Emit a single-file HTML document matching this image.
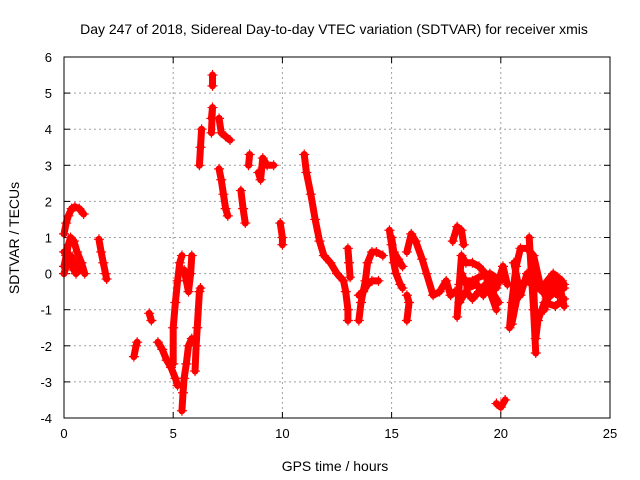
<!DOCTYPE html>
<html><head><meta charset="utf-8"><style>
body{margin:0;background:#fff}
svg{display:block;font-family:"Liberation Sans",sans-serif}
</style></head><body>
<svg id="chart" width="640" height="480" viewBox="0 0 640 480">
<text x="334" y="34" font-size="14" text-anchor="middle">Day 247 of 2018, Sidereal Day-to-day VTEC variation (SDTVAR) for receiver xmis</text>
<text x="335" y="471" font-size="14" text-anchor="middle">GPS time / hours</text>
<text transform="translate(19,238) rotate(-90)" font-size="14" text-anchor="middle">SDTVAR / TECUs</text>
<g id="grid"></g><g id="ticks"></g><g id="marks"></g>
<rect x="64" y="57" width="546" height="361" fill="none" stroke="#000" stroke-width="1"/>
</svg>
<script>
const xTicks=[0,5,10,15,20,25];
const yTicks=[-4,-3,-2,-1,0,1,2,3,4,5,6];
const seg1=[[0,1.1],[0.1,1.4],[0.2,1.6],[0.35,1.8],[0.5,1.85],[0.7,1.8],[0.9,1.65]];
const seg2=[[0,0.2],[0.1,0.5],[0.2,0.8],[0.3,1.0],[0.45,0.9],[0.6,0.6],[0.8,0.3],[0.95,0.0]];
const seg3=[[0,0.0],[0.1,0.2],[0.3,0.5],[0.5,0.3],[0.7,0.1]];
const seg3b=[[0,0.6],[0.15,0.5],[0.3,0.3],[0.45,0.1],[0.55,0.0]];
const seg4=[[1.6,0.95],[1.7,0.6],[1.8,0.3],[1.9,0.0],[1.95,-0.15]];
const seg5=[[3.2,-2.3],[3.3,-2.0],[3.35,-1.9]];
const seg6=[[3.9,-1.1],[4.0,-1.3]];
const seg7=[[4.3,-1.9],[4.5,-2.1],[4.7,-2.4],[4.9,-2.6],[5.1,-2.9],[5.2,-3.1]];
const seg8=[[5.0,-2.5],[5.0,-1.5],[5.1,-0.8],[5.2,-0.2],[5.3,0.3],[5.4,0.5]];
const seg9=[[5.5,0.1],[5.6,-0.2],[5.7,-0.5],[5.8,0.0],[5.85,0.5]];
const seg10=[[5.4,-3.8],[5.45,-3.3],[5.5,-2.9],[5.6,-2.5],[5.7,-2.0],[5.85,-1.8]];
const seg11=[[6.0,-2.7],[6.05,-2.0],[6.1,-1.5],[6.2,-0.5],[6.25,-0.4]];
const seg12=[[6.2,3.0],[6.25,3.5],[6.3,4.0]];
const seg13=[[6.8,5.5],[6.8,5.2]];
const seg14=[[6.75,3.9],[6.8,4.6],[6.75,4.3]];
const seg15=[[7.1,4.3],[7.2,3.9],[7.4,3.8],[7.6,3.7]];
const seg16=[[7.1,2.9],[7.2,2.6],[7.3,2.2],[7.4,1.8],[7.5,1.6]];
const seg17=[[8.1,2.3],[8.2,1.8],[8.3,1.4]];
const seg18=[[8.5,3.3],[8.45,3.0]];
const seg19=[[8.9,2.8],[9.0,2.6],[9.1,3.2],[9.3,3.0],[9.6,3.0]];
const seg20=[[9.9,1.4],[10.0,1.0],[10.0,0.8]];
const seg21=[[11.0,3.3],[11.1,2.8],[11.3,2.2],[11.5,1.5],[11.7,0.9],[11.9,0.5],[12.2,0.3],[12.5,0.0],[12.8,-0.2],[12.9,-0.5],[13.0,-1.0],[13.0,-1.3]];
const seg22=[[13.0,0.7],[13.05,0.3],[13.1,-0.1]];
const seg23=[[13.5,-1.3],[13.6,-0.8],[13.8,-0.2],[13.9,0.3],[14.1,0.6],[14.3,0.6],[14.6,0.5]];
const seg24=[[13.5,-0.6],[13.7,-0.5],[13.9,-0.3],[14.1,-0.2],[14.4,-0.2]];
const seg25=[[14.9,1.2],[15.0,0.8],[15.1,0.3],[15.2,0.0],[15.4,-0.3],[15.5,-0.4]];
const seg26=[[15.0,1.0],[15.1,0.6],[15.3,0.4],[15.5,0.2]];
const seg27=[[15.7,-0.6],[15.8,-0.8],[15.7,-1.3]];
const seg28=[[15.7,0.6],[15.9,1.1],[16.1,0.9],[16.4,0.4],[16.6,0.0],[16.9,-0.6],[17.2,-0.5],[17.5,-0.2],[17.7,-0.6],[17.9,-0.5]];
const seg29=[[17.8,0.9],[18.0,1.3],[18.2,1.2],[18.3,0.8]];
const seg30=[[18.0,-1.2],[18.1,-0.3],[18.2,0.5],[18.4,0.3],[18.7,0.3],[19.0,0.2],[19.3,0.0],[19.5,-0.5],[19.8,-1.0]];
const seg31=[[18.1,-0.8],[18.4,-0.5],[18.7,-0.7],[19.0,-0.5],[19.3,-0.3],[19.6,-0.5],[19.9,-0.8]];
const seg32=[[18.4,-0.2],[18.7,-0.2],[19.0,-0.1],[19.5,0.0],[20.0,-0.2]];
const seg32b=[[18.2,0.0],[18.5,-0.4],[18.9,-0.3],[19.2,-0.6],[19.5,-0.2],[19.8,-0.4],[20.1,0.2],[20.3,-0.3]];
const seg33=[[19.8,-3.6],[20.0,-3.7],[20.2,-3.5]];
const seg34=[[20.4,-1.5],[20.5,-0.8],[20.7,0.2],[20.9,0.7],[21.2,0.7],[21.5,0.5],[21.8,-0.3],[22.1,-0.7],[22.5,-0.5],[22.9,-0.4]];
const seg35=[[20.5,-1.4],[20.8,-0.5],[21.1,-0.2],[21.5,-0.3],[21.6,-1.8],[21.7,-1.3],[22.0,-0.8],[22.5,-0.9],[22.9,-0.7]];
const seg36=[[21.3,1.0],[21.5,-1.0],[21.6,-2.2]];
const seg37=[[22.0,-0.3],[22.4,0.0],[22.8,-0.2]];
const seg38=[[20.6,0.3],[20.9,-0.6],[21.2,0.0],[21.9,-0.5],[22.2,-0.2],[22.6,-0.6],[22.9,-0.3]];
const seg39=[[22.0,-1.0],[22.3,-0.4],[22.6,-0.1],[22.9,-0.9]];
const segments=[seg1,seg2,seg3,seg3b,seg4,seg5,seg6,seg7,seg8,seg9,seg10,seg11,seg12,seg13,seg14,seg15,seg16,seg17,seg18,seg19,seg20,seg21,seg22,seg23,seg24,seg25,seg26,seg27,seg28,seg29,seg30,seg31,seg32,seg32b,seg33,seg34,seg35,seg36,seg37,seg38,seg39];

const L=64,R=610,T=57,B=418;
const sx=v=>L+(v-0)/(25-0)*(R-L);
const sy=v=>B-(v+4)/(10)*(B-T);
const NS='http://www.w3.org/2000/svg';
function mk(tag,attrs,parent){const e=document.createElementNS(NS,tag);for(const k in attrs)e.setAttribute(k,attrs[k]);parent.appendChild(e);return e;}
const grid=document.getElementById('grid'),ticks=document.getElementById('ticks'),marks=document.getElementById('marks');
xTicks.forEach(t=>{const x=sx(t);
 if(t>0&&t<25){const g=mk('line',{x1:x,x2:x,y1:T,y2:B,stroke:'#a0a0a0','stroke-dasharray':'2,3'},grid);
 
 }
 mk('line',{x1:x,x2:x,y1:B,y2:B-6,stroke:'#000'},ticks);
 mk('line',{x1:x,x2:x,y1:T,y2:T+6,stroke:'#000'},ticks);
 const tx=mk('text',{x:x,y:B+20,'font-size':13,'text-anchor':'middle'},ticks);tx.textContent=t;
 
 
});
yTicks.forEach(t=>{const y=sy(t);
 if(t>-4&&t<6){const g=mk('line',{x1:L,x2:R,y1:y,y2:y,stroke:'#a0a0a0','stroke-dasharray':'2,3'},grid);
 
 }
 mk('line',{x1:L,x2:L+6,y1:y,y2:y,stroke:'#000'},ticks);
 mk('line',{x1:R,x2:R-6,y1:y,y2:y,stroke:'#000'},ticks);
 const tx=mk('text',{x:L-12,y:y+5,'font-size':13,'text-anchor':'end'},ticks);tx.textContent=t;
 
 
});
segments.forEach(s=>{
 const pl=mk('polyline',{points:s.map(p=>sx(p[0])+','+sy(p[1])).join(' '),fill:'none',stroke:'#f00','stroke-width':7,'stroke-linejoin':'round','stroke-linecap':'round'},marks);
 
 
 s.forEach(p=>{const x=sx(p[0]),y=sy(p[1]);
  const m=mk('path',{d:`M${x-5},${y}h10M${x},${y-5}v10`,stroke:'#f00','stroke-width':1.2},marks);
  
  
 });
});
</script>
</body></html>
